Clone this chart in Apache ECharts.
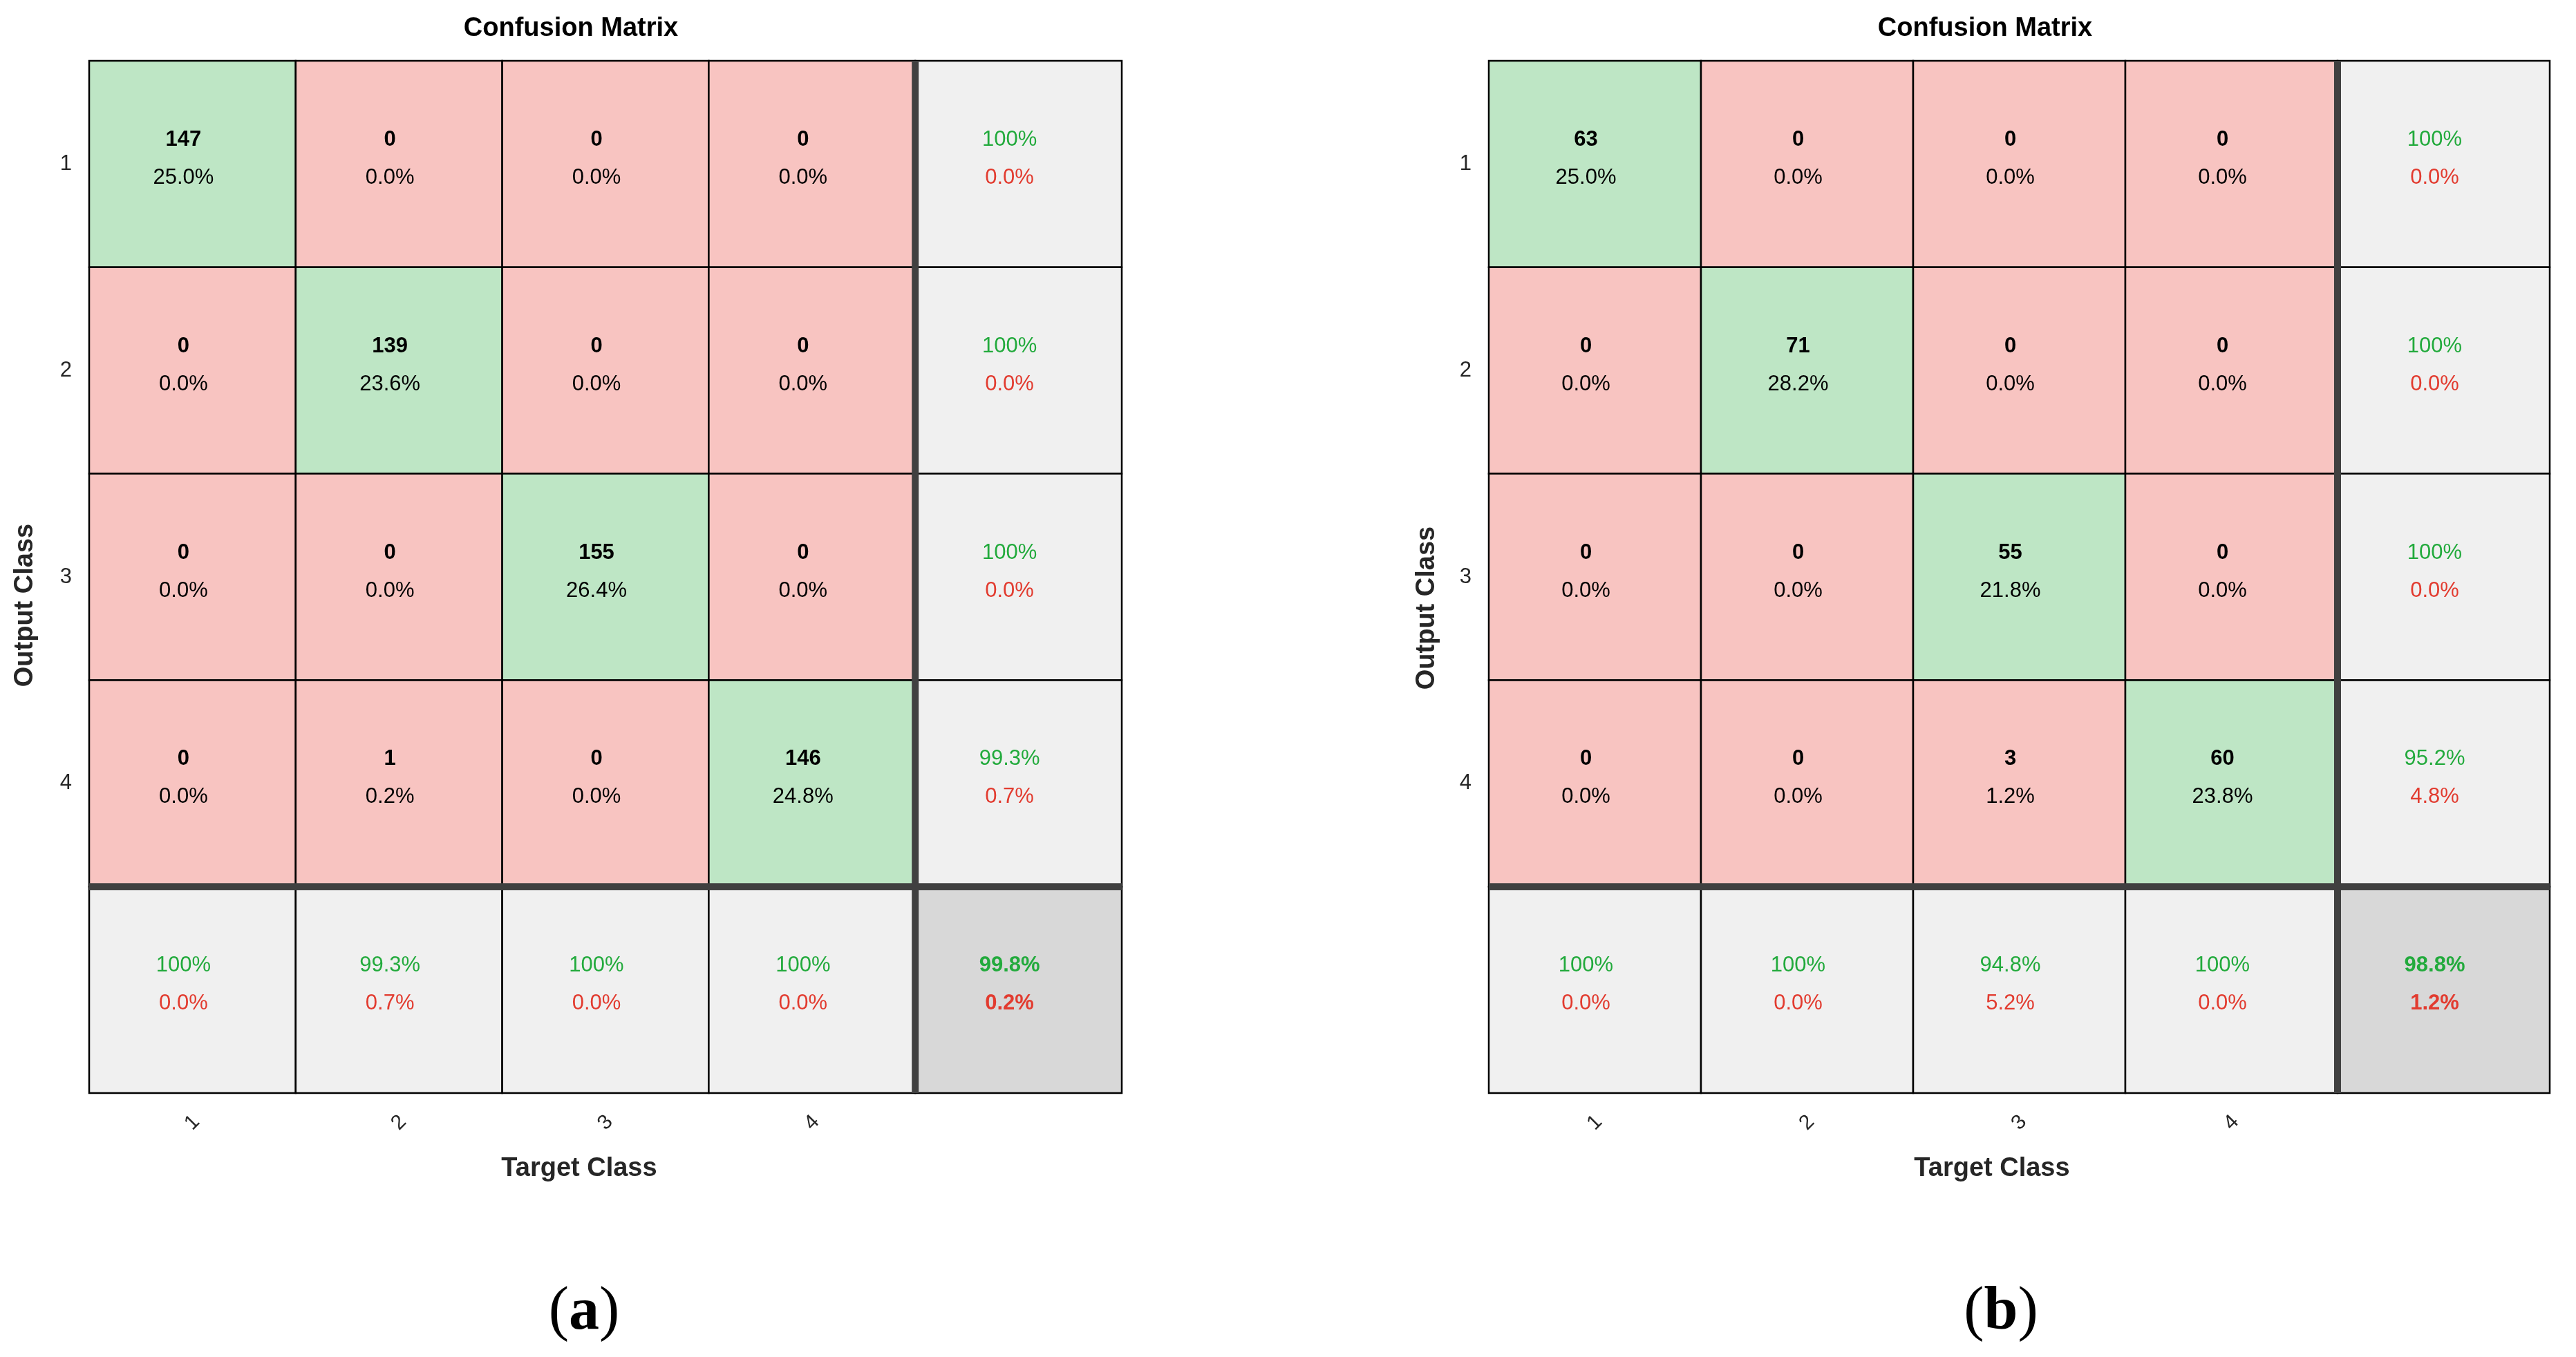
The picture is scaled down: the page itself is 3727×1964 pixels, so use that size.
<!DOCTYPE html>
<html><head><meta charset="utf-8">
<script src="https://cdn.jsdelivr.net/npm/echarts@6/dist/echarts.min.js"></script>
<style>html,body{margin:0;padding:0;background:#fff}#c{width:3727px;height:1964px}</style>
</head><body><div id="c"></div>
<script>
// ---------- data ----------
const classLabels = ['1', '2', '3', '4'];

// Panel (a)
const countsA = [[147, 0, 0, 0], [0, 139, 0, 0], [0, 0, 155, 0], [0, 1, 0, 146]];
const percentsA = [
  ['25.0%', '0.0%', '0.0%', '0.0%'],
  ['0.0%', '23.6%', '0.0%', '0.0%'],
  ['0.0%', '0.0%', '26.4%', '0.0%'],
  ['0.0%', '0.2%', '0.0%', '24.8%']
];
const rowCorrectA = ['100%', '100%', '100%', '99.3%'];
const rowWrongA = ['0.0%', '0.0%', '0.0%', '0.7%'];
const colCorrectA = ['100%', '99.3%', '100%', '100%'];
const colWrongA = ['0.0%', '0.7%', '0.0%', '0.0%'];
const overallA = ['99.8%', '0.2%'];

// Panel (b)
const countsB = [[63, 0, 0, 0], [0, 71, 0, 0], [0, 0, 55, 0], [0, 0, 3, 60]];
const percentsB = [
  ['25.0%', '0.0%', '0.0%', '0.0%'],
  ['0.0%', '28.2%', '0.0%', '0.0%'],
  ['0.0%', '0.0%', '21.8%', '0.0%'],
  ['0.0%', '0.0%', '1.2%', '23.8%']
];
const rowCorrectB = ['100%', '100%', '100%', '95.2%'];
const rowWrongB = ['0.0%', '0.0%', '0.0%', '4.8%'];
const colCorrectB = ['100%', '100%', '94.8%', '100%'];
const colWrongB = ['0.0%', '0.0%', '5.2%', '0.0%'];
const overallB = ['98.8%', '1.2%'];

// ---------- styling ----------
const FONT = '"Liberation Sans", Arial, Helvetica, sans-serif';
const SERIF = '"Liberation Serif", "Times New Roman", serif';
const GREEN = '#22AA3C';
const RED = '#E23B2F';
const FILLS = { diag: '#BEE6C5', off: '#F8C4C1', sum: '#F0F0F0', total: '#D8D8D8' };

function buildCells(counts, percents, rowC, rowW, colC, colW, overall) {
  const cells = [];
  const n = counts.length;
  for (let i = 0; i <= n; i++) {
    for (let j = 0; j <= n; j++) {
      let kind, l1, l2;
      if (i < n && j < n) {
        kind = i === j ? 'diag' : 'off';
        l1 = String(counts[i][j]);
        l2 = percents[i][j];
      } else if (i < n && j === n) {
        kind = 'sum'; l1 = rowC[i]; l2 = rowW[i];
      } else if (i === n && j < n) {
        kind = 'sum'; l1 = colC[j]; l2 = colW[j];
      } else {
        kind = 'total'; l1 = overall[0]; l2 = overall[1];
      }
      cells.push({ value: [j, i], kind: kind, l1: l1, l2: l2 });
    }
  }
  return cells;
}

const cellsA = buildCells(countsA, percentsA, rowCorrectA, rowWrongA, colCorrectA, colWrongA, overallA);
const cellsB = buildCells(countsB, percentsB, rowCorrectB, rowWrongB, colCorrectB, colWrongB, overallB);

function makeCellRenderer(cells) {
  return function (params, api) {
    const cell = cells[params.dataIndex];
    const c = api.coord([api.value(0), api.value(1)]);
    const s = api.size([1, 1]);
    const isSum = cell.kind === 'sum' || cell.kind === 'total';
    const isTotal = cell.kind === 'total';
    return {
      type: 'group',
      children: [
        { type: 'rect', shape: { x: c[0] - s[0] / 2, y: c[1] - s[1] / 2, width: s[0], height: s[1] },
          style: { fill: FILLS[cell.kind], stroke: '#000', lineWidth: 2.5 } },
        { type: 'text', x: c[0] - 13, y: c[1] - 35,
          style: { text: cell.l1, fill: isSum ? GREEN : '#000', fontSize: 31, fontFamily: FONT,
                   fontWeight: (isSum && !isTotal) ? 'normal' : 'bold', align: 'center', verticalAlign: 'middle' } },
        { type: 'text', x: c[0] - 13, y: c[1] + 20,
          style: { text: cell.l2, fill: isSum ? RED : '#000', fontSize: 31, fontFamily: FONT,
                   fontWeight: isTotal ? 'bold' : 'normal', align: 'center', verticalAlign: 'middle' } }
      ]
    };
  };
}

function separatorRenderer(params, api) {
  const cs = params.coordSys;
  const c = api.coord([api.value(0), api.value(1)]);
  const s = api.size([1, 1]);
  const bx = c[0] - s[0] / 2, by = c[1] - s[1] / 2;
  return {
    type: 'group',
    children: [
      { type: 'line', shape: { x1: bx, y1: cs.y, x2: bx, y2: cs.y + cs.height }, style: { stroke: '#404040', lineWidth: 10 } },
      { type: 'line', shape: { x1: cs.x, y1: by, x2: cs.x + cs.width, y2: by }, style: { stroke: '#404040', lineWidth: 10 } }
    ]
  };
}

const axisCats = classLabels.concat(['']);

function xAxisFor(idx) {
  return {
    type: 'category', gridIndex: idx, data: axisCats, position: 'bottom',
    axisLine: { show: false }, axisTick: { show: false }, splitLine: { show: false },
    axisLabel: { interval: 0, rotate: 45, align: 'center', verticalAlign: 'middle', margin: 43,
                 fontSize: 30, color: '#262626', fontFamily: FONT }
  };
}
function yAxisFor(idx) {
  return {
    type: 'category', gridIndex: idx, data: axisCats, inverse: true,
    axisLine: { show: false }, axisTick: { show: false }, splitLine: { show: false },
    axisLabel: { interval: 0, margin: 25, fontSize: 31, color: '#262626', fontFamily: FONT, padding: [0, 0, 18, 0] }
  };
}

function textEl(x, y, text, size, color, rotation) {
  return {
    type: 'text', x: x, y: y, rotation: rotation || 0,
    style: { text: text, fontSize: size, fontWeight: 'bold', fontFamily: FONT, fill: color,
             align: 'center', verticalAlign: 'middle' }
  };
}

function caption(x, y, letter) {
  return {
    type: 'text', x: x, y: y,
    style: {
      text: '{p|(}{b|' + letter + '}{p|)}', align: 'center', verticalAlign: 'middle',
      rich: {
        p: { fontFamily: SERIF, fontSize: 88, fill: '#000' },
        b: { fontFamily: SERIF, fontSize: 88, fontWeight: 'bold', fill: '#000' }
      }
    }
  };
}

const chart = echarts.init(document.getElementById('c'), null, { renderer: 'canvas' });
chart.setOption({
  backgroundColor: '#ffffff',
  animation: false,
  grid: [
    { left: 129, top: 88, width: 1494, height: 1494 },
    { left: 2154, top: 88, width: 1535, height: 1494 }
  ],
  xAxis: [xAxisFor(0), xAxisFor(1)],
  yAxis: [yAxisFor(0), yAxisFor(1)],
  series: [
    { type: 'custom', xAxisIndex: 0, yAxisIndex: 0, renderItem: makeCellRenderer(cellsA),
      data: cellsA.map(d => d.value), z: 2 },
    { type: 'custom', xAxisIndex: 0, yAxisIndex: 0, renderItem: separatorRenderer,
      data: [[classLabels.length, classLabels.length]], z: 3 },
    { type: 'custom', xAxisIndex: 1, yAxisIndex: 1, renderItem: makeCellRenderer(cellsB),
      data: cellsB.map(d => d.value), z: 2 },
    { type: 'custom', xAxisIndex: 1, yAxisIndex: 1, renderItem: separatorRenderer,
      data: [[classLabels.length, classLabels.length]], z: 3 }
  ],
  graphic: [
    textEl(826, 42, 'Confusion Matrix', 38, '#000'),
    textEl(2872, 42, 'Confusion Matrix', 38, '#000'),
    textEl(838, 1692, 'Target Class', 38, '#262626'),
    textEl(2882, 1692, 'Target Class', 38, '#262626'),
    textEl(37, 876, 'Output Class', 38, '#262626', Math.PI / 2),
    textEl(2065, 880, 'Output Class', 38, '#262626', Math.PI / 2),
    caption(845, 1900, 'a'),
    caption(2895, 1900, 'b')
  ]
});
</script>
</body></html>
